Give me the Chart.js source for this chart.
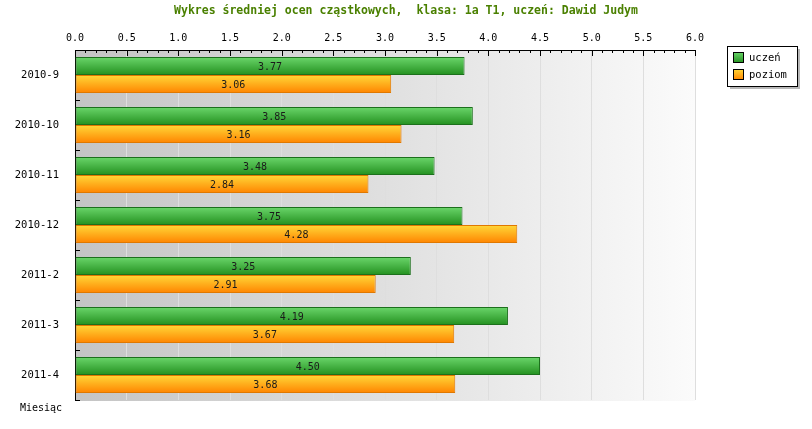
<!DOCTYPE html>
<html>
<head>
<meta charset="utf-8">
<script src="https://cdn.jsdelivr.net/npm/chart.js@4.4.0/dist/chart.umd.min.js"></script>
<style>
  html, body { margin: 0; padding: 0; background: #fff; }
  #wrap { width: 812px; height: 429px; }
</style>
</head>
<body>
<div id="wrap"><canvas id="myChart"></canvas></div>
<script>
const title = 'Wykres średniej ocen cząstkowych,  klasa: 1a T1, uczeń: Dawid Judym';
const months = ['2010-9', '2010-10', '2010-11', '2010-12', '2011-2', '2011-3', '2011-4'];
const uczen = [3.77, 3.85, 3.48, 3.75, 3.25, 4.19, 4.50];
const poziom = [3.06, 3.16, 2.84, 4.28, 2.91, 3.67, 3.68];
const seriesNames = ['uczeń', 'poziom'];
const axisLabel = 'Miesiąc';

const mono = '"DejaVu Sans Mono", "Liberation Mono", monospace';
const CAT_PCT = 0.72;

// gradient stops for each series: top, bottom, border
const looks = [
    { top: '#6bd66b', bottom: '#23901f', border: '#1c701c' },
    { top: '#ffd838', bottom: '#ff8400', border: '#e07800' }
];

function barGradient(ctx) {
    const look = looks[ctx.datasetIndex];
    const chart = ctx.chart;
    const ys = chart.scales.y;
    if (!ys || ctx.type !== 'data' || !chart.chartArea) return look.bottom;
    const band = Math.abs(ys.getPixelForValue(1) - ys.getPixelForValue(0));
    const h = band * CAT_PCT / 2;
    const center = ys.getPixelForValue(ctx.dataIndex);
    const top = ctx.datasetIndex === 0 ? center - h : center;
    const g = chart.ctx.createLinearGradient(0, top, 0, top + h);
    g.addColorStop(0, look.top);
    g.addColorStop(1, look.bottom);
    return g;
}

const decor = {
    id: 'decor',
    beforeDraw(chart) {
        const { ctx, chartArea: a } = chart;
        const g = ctx.createLinearGradient(a.left, 0, a.right, 0);
        g.addColorStop(0, '#c4c4c4');
        g.addColorStop(1, '#fbfbfb');
        ctx.save();
        ctx.fillStyle = g;
        ctx.fillRect(a.left, a.top, a.right - a.left, a.bottom - a.top + 1);
        ctx.restore();
    },
    afterDraw(chart) {
        const { ctx, chartArea: a } = chart;
        const xs = chart.scales.x, ys = chart.scales.y;
        ctx.save();

        // title, centred over the whole canvas
        ctx.font = 'bold 11.5px ' + mono;
        ctx.fillStyle = '#4a8000';
        ctx.textAlign = 'center';
        ctx.textBaseline = 'middle';
        ctx.fillText(title, chart.width / 2, 11);

        ctx.strokeStyle = '#000';
        ctx.lineWidth = 1;
        ctx.beginPath();
        // ruler ticks under the top axis
        for (let i = 0; i <= 60; i++) {
            const x = Math.round(xs.getPixelForValue(i / 10)) + 0.5;
            const len = i % 5 === 0 ? 6 : 3;
            ctx.moveTo(x, a.top);
            ctx.lineTo(x, a.top + len);
        }
        // category ticks on the left axis, pointing inward
        const band = Math.abs(ys.getPixelForValue(1) - ys.getPixelForValue(0));
        for (let i = 0; i < months.length; i++) {
            const y = Math.round(ys.getPixelForValue(i) + band / 2) + 0.5;
            ctx.moveTo(a.left, y);
            ctx.lineTo(a.left + 5, y);
        }
        ctx.stroke();

        // value labels in bars
        ctx.font = '10px ' + mono;
        ctx.fillStyle = '#1a1a1a';
        chart.data.datasets.forEach((ds, di) => {
            chart.getDatasetMeta(di).data.forEach((bar, i) => {
                ctx.fillText(ds.data[i].toFixed(2), (bar.base + bar.x) / 2, bar.y + 1);
            });
        });

        // axis name
        ctx.textAlign = 'left';
        ctx.fillStyle = '#000';
        ctx.fillText(axisLabel, 20, a.bottom + 8);

        // legend box
        const lx = a.right + 32, ly = a.top - 4, lw = 70, lh = 40;
        ctx.fillStyle = '#b8b8b8';
        ctx.fillRect(lx + 3, ly + 3, lw, lh);
        ctx.fillStyle = '#fff';
        ctx.fillRect(lx, ly, lw, lh);
        ctx.strokeRect(lx + 0.5, ly + 0.5, lw, lh);
        chart.data.datasets.forEach((ds, di) => {
            const look = looks[di];
            const sy = ly + 6 + di * 17;
            const g = ctx.createLinearGradient(0, sy, 0, sy + 11);
            g.addColorStop(0, look.top);
            g.addColorStop(1, look.bottom);
            ctx.fillStyle = g;
            ctx.fillRect(lx + 6, sy, 11, 11);
            ctx.strokeStyle = '#000';
            ctx.strokeRect(lx + 6.5, sy + 0.5, 10, 10);
            ctx.fillStyle = '#000';
            ctx.font = '10.5px ' + mono;
            ctx.fillText(ds.label, lx + 22, sy + 6);
        });
        ctx.restore();
    }
};

new Chart(document.getElementById('myChart'), {
    type: 'bar',
    data: {
        labels: months,
        datasets: [
            { label: seriesNames[0], data: uczen, borderColor: looks[0].border },
            { label: seriesNames[1], data: poziom, borderColor: looks[1].border }
        ]
    },
    options: {
        indexAxis: 'y',
        responsive: true,
        maintainAspectRatio: false,
        animation: false,
        events: [],
        layout: { padding: { top: 18, right: 117, bottom: 29, left: 0 } },
        datasets: {
            bar: {
                categoryPercentage: CAT_PCT,
                barPercentage: 1.0,
                borderWidth: 1,
                borderSkipped: false,
                backgroundColor: barGradient
            }
        },
        scales: {
            x: {
                position: 'top',
                min: 0,
                max: 6,
                ticks: {
                    stepSize: 0.5,
                    padding: 6,
                    color: '#000',
                    font: { family: mono, size: 10 },
                    callback: v => Number(v).toFixed(1)
                },
                grid: { color: '#dedede', drawTicks: false },
                border: { display: true, color: '#000' },
                afterFit(scale) { scale.height = 32; }
            },
            y: {
                ticks: {
                    padding: 16,
                    color: '#000',
                    font: { family: mono, size: 10.5 }
                },
                grid: { display: false, drawTicks: false },
                border: { display: true, color: '#000' },
                afterFit(scale) { scale.width = 75; }
            }
        },
        plugins: {
            legend: { display: false },
            tooltip: { enabled: false },
            title: { display: false }
        }
    },
    plugins: [decor]
});
</script>
</body>
</html>
